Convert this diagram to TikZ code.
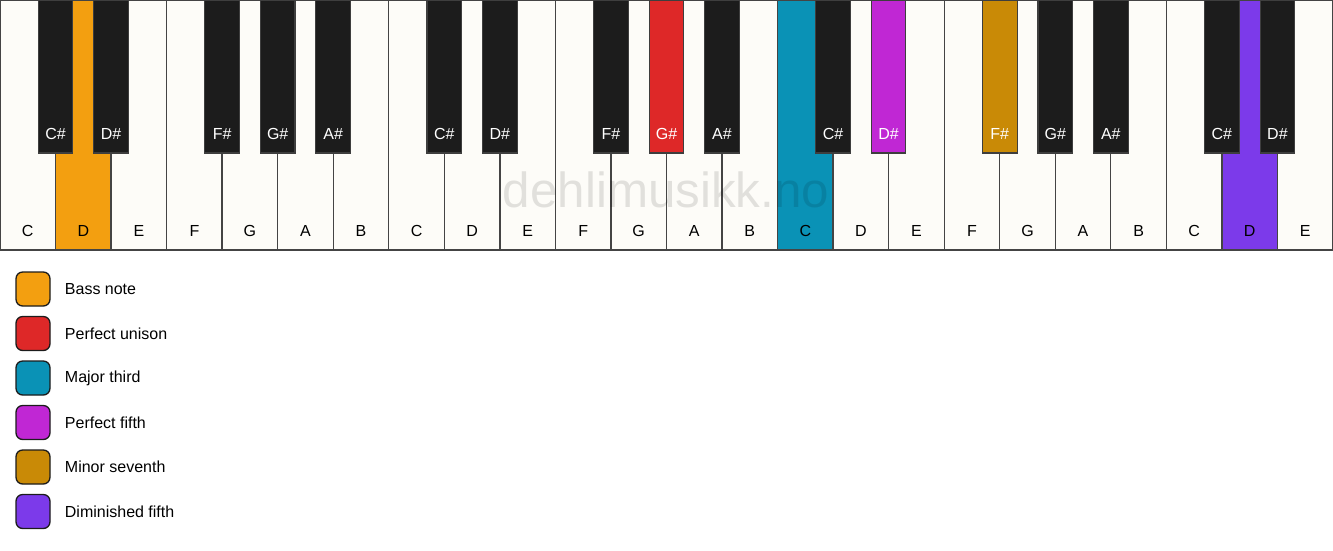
\documentclass[tikz,border=0pt]{standalone}
\usepackage{fontspec}
\setmainfont{Liberation Sans}
\usetikzlibrary{positioning}

\definecolor{keywhite}{HTML}{FDFCF8}
\definecolor{keyblack}{HTML}{1C1C1C}
\definecolor{keyline}{HTML}{444444}
\definecolor{bass}{HTML}{F39F10}
\definecolor{unison}{HTML}{DE2828}
\definecolor{third}{HTML}{0A92B6}
\definecolor{fifth}{HTML}{C027D4}
\definecolor{seventh}{HTML}{C98A06}
\definecolor{dimfifth}{HTML}{7C3AEA}

\tikzset{
  whitekey/.style={draw=keyline, line width=1pt},
  blackkey/.style={draw=keyblack!85!white, line width=0.8pt},
  whitelabel/.style={anchor=base, inner sep=0pt, text=black, font=\fontsize{12}{14}\selectfont},
  blacklabel/.style={anchor=base, inner sep=0pt, text=white, font=\fontsize{12}{14}\selectfont},
  legendbox/.style={draw=keyblack, line width=1pt, rounded corners=5pt,
    minimum width=25.5pt, minimum height=25.5pt, inner sep=0pt},
  legendtext/.style={anchor=west, inner sep=0pt, font=\fontsize{12}{14}\selectfont},
  watermark/.style={anchor=base, inner sep=0pt, text=black, text opacity=0.11,
    font=\fontsize{37}{40}\selectfont}
}

\begin{document}
\begin{tikzpicture}[x=0.75pt, y=-0.75pt]
  \useasboundingbox (0,0) rectangle (1333,550);
  %
  % white keys
  \foreach \i/\n/\c in {0/C/keywhite, 1/D/bass, 2/E/keywhite, 3/F/keywhite,
      4/G/keywhite, 5/A/keywhite, 6/B/keywhite, 7/C/keywhite, 8/D/keywhite,
      9/E/keywhite, 10/F/keywhite, 11/G/keywhite, 12/A/keywhite, 13/B/keywhite,
      14/C/third, 15/D/keywhite, 16/E/keywhite, 17/F/keywhite, 18/G/keywhite,
      19/A/keywhite, 20/B/keywhite, 21/C/keywhite, 22/D/dimfifth, 23/E/keywhite}{
    \draw[whitekey, fill=\c] (\i*55.54,0) rectangle ++(55.54,250);
    \node[whitelabel] (w\i) at (\i*55.54+27.77,236) {\n};
  }
  %
  % black keys, centred on the gaps
  \foreach \b/\n/\c in {1/C\#/keyblack, 2/D\#/keyblack, 4/F\#/keyblack,
      5/G\#/keyblack, 6/A\#/keyblack, 8/C\#/keyblack, 9/D\#/keyblack,
      11/F\#/keyblack, 12/G\#/unison, 13/A\#/keyblack, 15/C\#/keyblack,
      16/D\#/fifth, 18/F\#/seventh, 19/G\#/keyblack, 20/A\#/keyblack,
      22/C\#/keyblack, 23/D\#/keyblack}{
    \draw[blackkey, fill=\c] (\b*55.54-17.3,0) rectangle ++(34.6,153);
    \node[blacklabel] (b\b) at (\b*55.54,139) {\n};
  }
  %
  \node[watermark] (mark) at (666,207) {dehlimusikk.no};
  %
  % legend
  \foreach \k/\c/\t in {0/bass/Bass note, 1/unison/Perfect unison,
      2/third/Major third, 3/fifth/Perfect fifth,
      4/seventh/Minor seventh, 5/dimfifth/Diminished fifth}{
    \node[legendbox, fill=\c] (box\k) at (33,289+\k*44.5) {};
    \node[legendtext, right=10.5pt of box\k] (txt\k) {\t};
  }
\end{tikzpicture}
\end{document}
